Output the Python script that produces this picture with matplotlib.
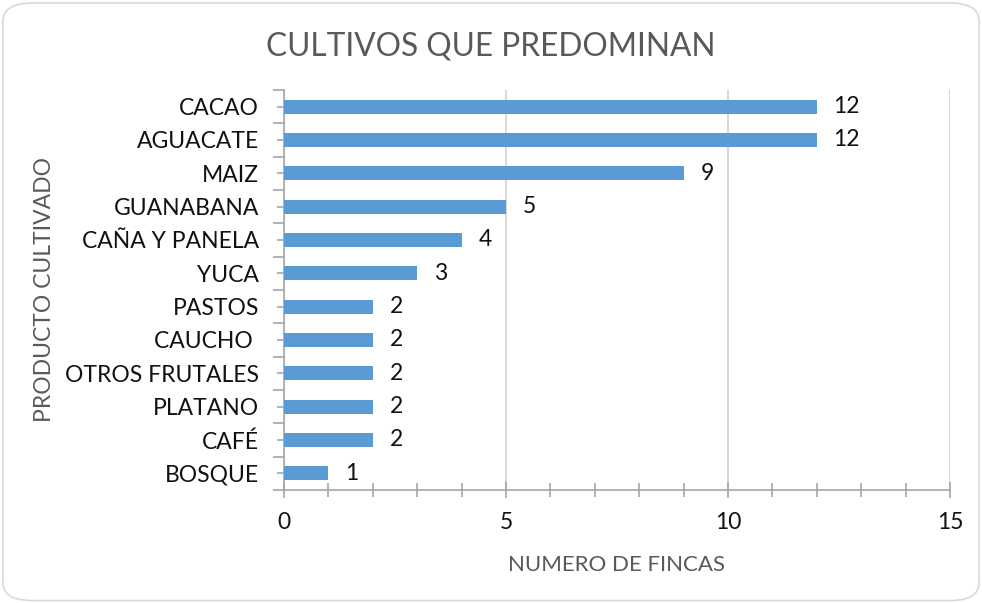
import matplotlib
matplotlib.use("Agg")
import matplotlib.pyplot as plt
from matplotlib.patches import FancyBboxPatch
from matplotlib.ticker import MultipleLocator, FixedLocator

categories = ["CACAO", "AGUACATE", "MAIZ", "GUANABANA", "CAÑA Y PANELA", "YUCA",
              "PASTOS", "CAUCHO ", "OTROS FRUTALES", "PLATANO", "CAFÉ", "BOSQUE"]
values = [12, 12, 9, 5, 4, 3, 2, 2, 2, 2, 2, 1]
x_ticks = [0, 5, 10, 15]

title = "CULTIVOS QUE PREDOMINAN"
xlabel = "NUMERO DE FINCAS"
ylabel = "PRODUCTO CULTIVADO"

FONT = ["Lato", "DejaVu Sans"]
plt.rcParams['font.family'] = FONT

fig = plt.figure(figsize=(9.82, 6.03), dpi=100)
border = FancyBboxPatch((0.003, 0.004), 0.994, 0.991,
                        boxstyle="round,pad=0,rounding_size=0.03",
                        transform=fig.transFigure, fill=False,
                        edgecolor="#d9d9d9", linewidth=1.2)
fig.patches.append(border)

ax = fig.add_axes([284/982, 1-490/603, (950-284)/982, 400/603])
n = len(categories)
ypos = list(range(n))
ax.barh(ypos, values, height=0.42, color="#5B9BD5", zorder=3)
ax.set_ylim(n - 0.5, -0.5)
ax.set_xlim(0, 15)

ax.xaxis.set_major_locator(FixedLocator(x_ticks))
ax.xaxis.set_minor_locator(MultipleLocator(1))
ax.grid(axis="x", which="major", color="#d9d9d9", linewidth=1.5, zorder=0)

for s in ["top", "right"]:
    ax.spines[s].set_visible(False)
for s in ["left", "bottom"]:
    ax.spines[s].set_color("#a6a6a6")
    ax.spines[s].set_linewidth(1.2)

ax.set_yticks(ypos)
ax.set_yticklabels(categories)
ax.yaxis.set_minor_locator(FixedLocator([i - 0.5 for i in range(n + 1)]))
ax.tick_params(axis="y", which="major", direction="inout", length=10, width=1.2,
               color="#a6a6a6", labelsize=16.5, labelcolor="#111111", pad=13)
ax.tick_params(axis="y", which="minor", direction="out", length=8, width=1.2,
               color="#a6a6a6")
ax.tick_params(axis="x", which="major", direction="inout", length=11, width=1.2,
               color="#a6a6a6", labelsize=16.5, labelcolor="#111111", pad=10)
ax.tick_params(axis="x", which="minor", direction="inout", length=10, width=1.2,
               color="#a6a6a6")

for y, v in zip(ypos, values):
    ax.annotate(str(v), xy=(v, y), xytext=(12, 0), textcoords="offset points",
                va="center", ha="left", fontsize=16.5, color="#111111")

fig.text((284 + 950) / 2 / 982, 1 - 565/603, xlabel, ha="center", va="center",
         fontsize=16, color="#595959")
fig.text(45/982, 1 - 290/603, ylabel, ha="center", va="center", rotation=90,
         fontsize=16.5, color="#595959")
fig.text(0.5, 1 - 46/603, title, ha="center", va="center", fontsize=22.8,
         color="#595959")

fig.savefig("out.png", dpi=100)
